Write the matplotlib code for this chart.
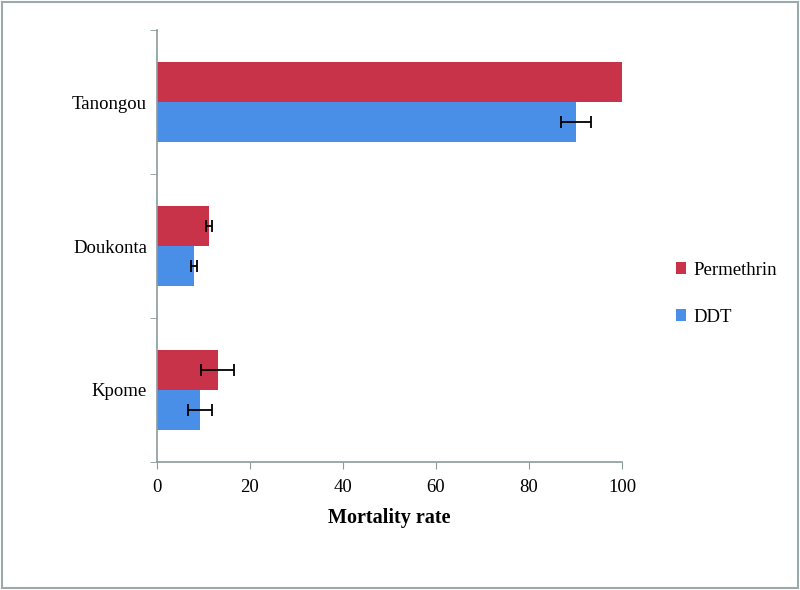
import numpy as np
import matplotlib.pyplot as plt
from matplotlib.patches import Rectangle

# Data
sites = ["Kpome", "Doukonta", "Tanongou"]
permethrin = [13.1, 11.2, 100.0]
permethrin_err = [3.5, 0.7, np.nan]
ddt = [9.2, 8.0, 90.1]
ddt_err = [2.6, 0.7, 3.3]

red = "#C8334A"
blue = "#4A8FE7"
axis_grey = "#8C9A9A"

plt.rcParams["font.family"] = ["Liberation Serif", "DejaVu Serif"]

fig = plt.figure(figsize=(8, 5.9), dpi=100)
ax = fig.add_axes([0.196, 0.217, 0.5815, 0.732])

y = np.arange(len(sites))
h = 0.28
err_kw = dict(ecolor="black", capsize=4, elinewidth=1.3, capthick=1.3)
ax.barh(y - h / 2, ddt, height=h, color=blue, xerr=ddt_err, error_kw=err_kw, label="DDT")
ax.barh(y + h / 2, permethrin, height=h, color=red, xerr=permethrin_err,
        error_kw=err_kw, label="Permethrin")

ax.set_xlim(0, 100)
ax.set_ylim(-0.5, len(sites) - 0.5)
ax.set_xticks(range(0, 101, 20))
ax.set_yticks(y)
ax.set_yticklabels(sites, fontsize=13.5)
ax.set_yticks(np.arange(-0.5, len(sites)), minor=True)
ax.tick_params(axis="y", which="major", length=0, pad=7)
ax.tick_params(axis="y", which="minor", length=5, color=axis_grey, direction="out")
ax.tick_params(axis="x", labelsize=13.5, length=5, color=axis_grey, pad=7)
ax.set_xlabel("Mortality rate", fontsize=14.5, fontweight="bold", labelpad=9)

for s in ["top", "right"]:
    ax.spines[s].set_visible(False)
for s in ["left", "bottom"]:
    ax.spines[s].set_color(axis_grey)
    ax.spines[s].set_linewidth(1.2)

handles, labels = ax.get_legend_handles_labels()
ax.legend(handles[::-1], labels[::-1], loc="center left", bbox_to_anchor=(1.08, 0.39),
          frameon=False, fontsize=13.5, handlelength=0.55, handleheight=0.55,
          handletextpad=0.4, labelspacing=1.6)

# outer border of the figure
fig.patches.append(Rectangle((0.003, 0.004), 0.994, 0.992, transform=fig.transFigure,
                             fill=False, edgecolor="#9AAAAA", linewidth=1.5))

fig.savefig("out.png", dpi=100)
